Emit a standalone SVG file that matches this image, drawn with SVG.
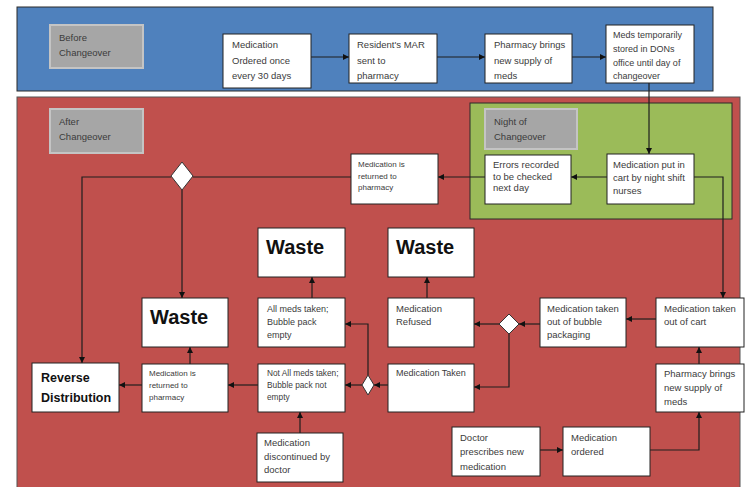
<svg xmlns="http://www.w3.org/2000/svg" width="746" height="487" viewBox="0 0 746 487">
<style>
.box{fill:#fff;stroke:#222;stroke-width:1}
.lbl{fill:#a6a6a6;stroke:#c4c4c4;stroke-width:2}
.t{font-family:"Liberation Sans",Arial,sans-serif;font-size:9.5px;fill:#3b3b3b}
.s{font-size:8px}
.w{font-family:"Liberation Sans",Arial,sans-serif;font-size:20px;font-weight:bold;fill:#111}
.b{font-family:"Liberation Sans",Arial,sans-serif;font-size:12.5px;font-weight:bold;fill:#111}
.c{fill:none;stroke:#1e1e1e;stroke-width:1.2}
.a{marker-end:url(#ah)}
.d{fill:#fff;stroke:#333;stroke-width:1}
</style>
<defs>
<marker id="ah" markerUnits="userSpaceOnUse" markerWidth="7" markerHeight="7" refX="6" refY="3" orient="auto">
<path d="M0,0 L6,3 L0,6 z" fill="#111"/>
</marker>
</defs>
<rect width="746" height="487" fill="#fff"/>
<g id="panels">
<rect x="17" y="7" width="696" height="84" fill="#4f81bd" stroke="#2a2a2a" stroke-width="1"/>
<rect x="17" y="97" width="723" height="400" fill="#c0504d" stroke="#555" stroke-width="1"/>
<rect x="470" y="103" width="262" height="116" fill="#9bbb59" stroke="#2a2a2a" stroke-width="1"/>
</g>
<g id="labels">
<g id="before"><rect class="lbl" x="50" y="25" width="93" height="43"/><text class="t" x="59" y="41">Before</text><text class="t" x="59" y="56">Changeover</text></g>
<g id="after"><rect class="lbl" x="50" y="109" width="93" height="44"/><text class="t" x="59" y="125">After</text><text class="t" x="59" y="140">Changeover</text></g>
<g id="night"><rect class="lbl" x="485" y="109" width="92" height="40"/><text class="t" x="494" y="125">Night of</text><text class="t" x="494" y="140">Changeover</text></g>
</g>
<g id="connectors">
<path class="c a" d="M311,57 H349"/>
<path class="c a" d="M437,57 H485"/>
<path class="c a" d="M572,57 H606"/>
<path class="c a" d="M649,83 V154"/>
<path class="c a" d="M607,177 H571"/>
<path class="c a" d="M485,177 H438"/>
<path class="c" d="M351,177 H193"/>
<path class="c a" d="M171,177 H82 V363"/>
<path class="c a" d="M182,190 V298"/>
<path class="c a" d="M694,177 H723 V298"/>
<path class="c a" d="M656,319 H626"/>
<path class="c a" d="M540,324 H519"/>
<path class="c a" d="M499,324 H474"/>
<path class="c a" d="M509,334 V387 H474"/>
<path class="c a" d="M427,298 V277"/>
<path class="c a" d="M312,298 V277"/>
<path class="c a" d="M388,385 H374"/>
<path class="c a" d="M362,385 H345"/>
<path class="c a" d="M368,375 V324 H345"/>
<path class="c a" d="M258,385 H228"/>
<path class="c a" d="M142,385 H119"/>
<path class="c a" d="M190,364 V347"/>
<path class="c a" d="M300,433 V412"/>
<path class="c a" d="M540,450 H563"/>
<path class="c a" d="M650,450 H699 V412"/>
<path class="c a" d="M699,364 V347"/>
</g>
<g id="diamonds">
<path id="dec1" class="d" d="M182,162 L193,176 L182,190 L171,176 Z"/>
<path id="dec2" class="d" d="M509,314 L519,324 L509,334 L499,324 Z"/>
<path id="dec3" class="d" d="M368,375 L374,385 L368,395 L362,385 Z"/>
</g>
<g id="n1"><rect class="box" x="223" y="34" width="88" height="54"/><text class="t" x="232" y="48">Medication</text><text class="t" x="232" y="64">Ordered once</text><text class="t" x="232" y="79">every 30 days</text></g>
<g id="n2"><rect class="box" x="349" y="34" width="88" height="49"/><text class="t" x="357" y="48">Resident's MAR</text><text class="t" x="357" y="64">sent to</text><text class="t" x="357" y="79">pharmacy</text></g>
<g id="n3"><rect class="box" x="485" y="34" width="87" height="49"/><text class="t" x="494" y="48">Pharmacy brings</text><text class="t" x="494" y="64">new supply of</text><text class="t" x="494" y="79">meds</text></g>
<g id="n4"><rect class="box" x="606" y="25" width="88" height="58"/><text class="t" x="613" y="38" style="font-size:9px">Meds temporarily</text><text class="t" x="613" y="52" style="font-size:9px">stored in DONs</text><text class="t" x="613" y="66" style="font-size:9px">office until day of</text><text class="t" x="613" y="79" style="font-size:9px">changeover</text></g>
<g id="n5"><rect class="box" x="607" y="154" width="87" height="50"/><text class="t" x="613" y="168">Medication put in</text><text class="t" x="613" y="181">cart by night shift</text><text class="t" x="613" y="194">nurses</text></g>
<g id="n6"><rect class="box" x="485" y="155" width="86" height="49"/><text class="t" x="493" y="168">Errors recorded</text><text class="t" x="493" y="180">to be checked</text><text class="t" x="493" y="191">next day</text></g>
<g id="n7"><rect class="box" x="351" y="154" width="87" height="50"/><text class="t s" x="358" y="167">Medication is</text><text class="t s" x="358" y="179">returned to</text><text class="t s" x="358" y="190">pharmacy</text></g>
<g id="waste1"><rect class="box" x="258" y="228" width="87" height="49"/><text class="w" x="266" y="254">Waste</text></g>
<g id="waste2"><rect class="box" x="388" y="228" width="86" height="49"/><text class="w" x="396" y="254">Waste</text></g>
<g id="waste3"><rect class="box" x="142" y="298" width="86" height="49"/><text class="w" x="150" y="324">Waste</text></g>
<g id="n8"><rect class="box" x="258" y="298" width="87" height="49"/><text class="t" x="267" y="312" style="font-size:9px">All meds taken;</text><text class="t" x="267" y="325" style="font-size:9px">Bubble pack</text><text class="t" x="267" y="338" style="font-size:9px">empty</text></g>
<g id="n9"><rect class="box" x="388" y="298" width="86" height="49"/><text class="t" x="396" y="312">Medication</text><text class="t" x="396" y="325">Refused</text></g>
<g id="n10"><rect class="box" x="540" y="298" width="86" height="49"/><text class="t" x="547" y="312">Medication taken</text><text class="t" x="547" y="325">out of bubble</text><text class="t" x="547" y="338">packaging</text></g>
<g id="n11"><rect class="box" x="656" y="298" width="88" height="49"/><text class="t" x="664" y="312">Medication taken</text><text class="t" x="664" y="325">out of cart</text></g>
<g id="n12"><rect class="box" x="388" y="364" width="86" height="48"/><text class="t" x="396" y="376" style="font-size:9px">Medication Taken</text></g>
<g id="n13"><rect class="box" x="258" y="364" width="87" height="48"/><text class="t" x="267" y="376" style="font-size:8.3px">Not All meds taken;</text><text class="t" x="267" y="388" style="font-size:8.3px">Bubble pack not</text><text class="t" x="267" y="400" style="font-size:8.3px">empty</text></g>
<g id="n14"><rect class="box" x="142" y="364" width="86" height="48"/><text class="t s" x="149" y="376">Medication is</text><text class="t s" x="149" y="388">returned to</text><text class="t s" x="149" y="400">pharmacy</text></g>
<g id="n15"><rect class="box" x="32" y="363" width="87" height="49"/><text class="b" x="41" y="382">Reverse</text><text class="b" x="41" y="402">Distribution</text></g>
<g id="n16"><rect class="box" x="257" y="433" width="86" height="49"/><text class="t" x="264" y="446">Medication</text><text class="t" x="264" y="460">discontinued by</text><text class="t" x="264" y="473">doctor</text></g>
<g id="n17"><rect class="box" x="452" y="427" width="88" height="49"/><text class="t" x="460" y="441">Doctor</text><text class="t" x="460" y="455">prescribes new</text><text class="t" x="460" y="470">medication</text></g>
<g id="n18"><rect class="box" x="563" y="427" width="87" height="49"/><text class="t" x="571" y="441">Medication</text><text class="t" x="571" y="455">ordered</text></g>
<g id="n19"><rect class="box" x="656" y="364" width="88" height="48"/><text class="t" x="664" y="377">Pharmacy brings</text><text class="t" x="664" y="391">new supply of</text><text class="t" x="664" y="405">meds</text></g>
</svg>
